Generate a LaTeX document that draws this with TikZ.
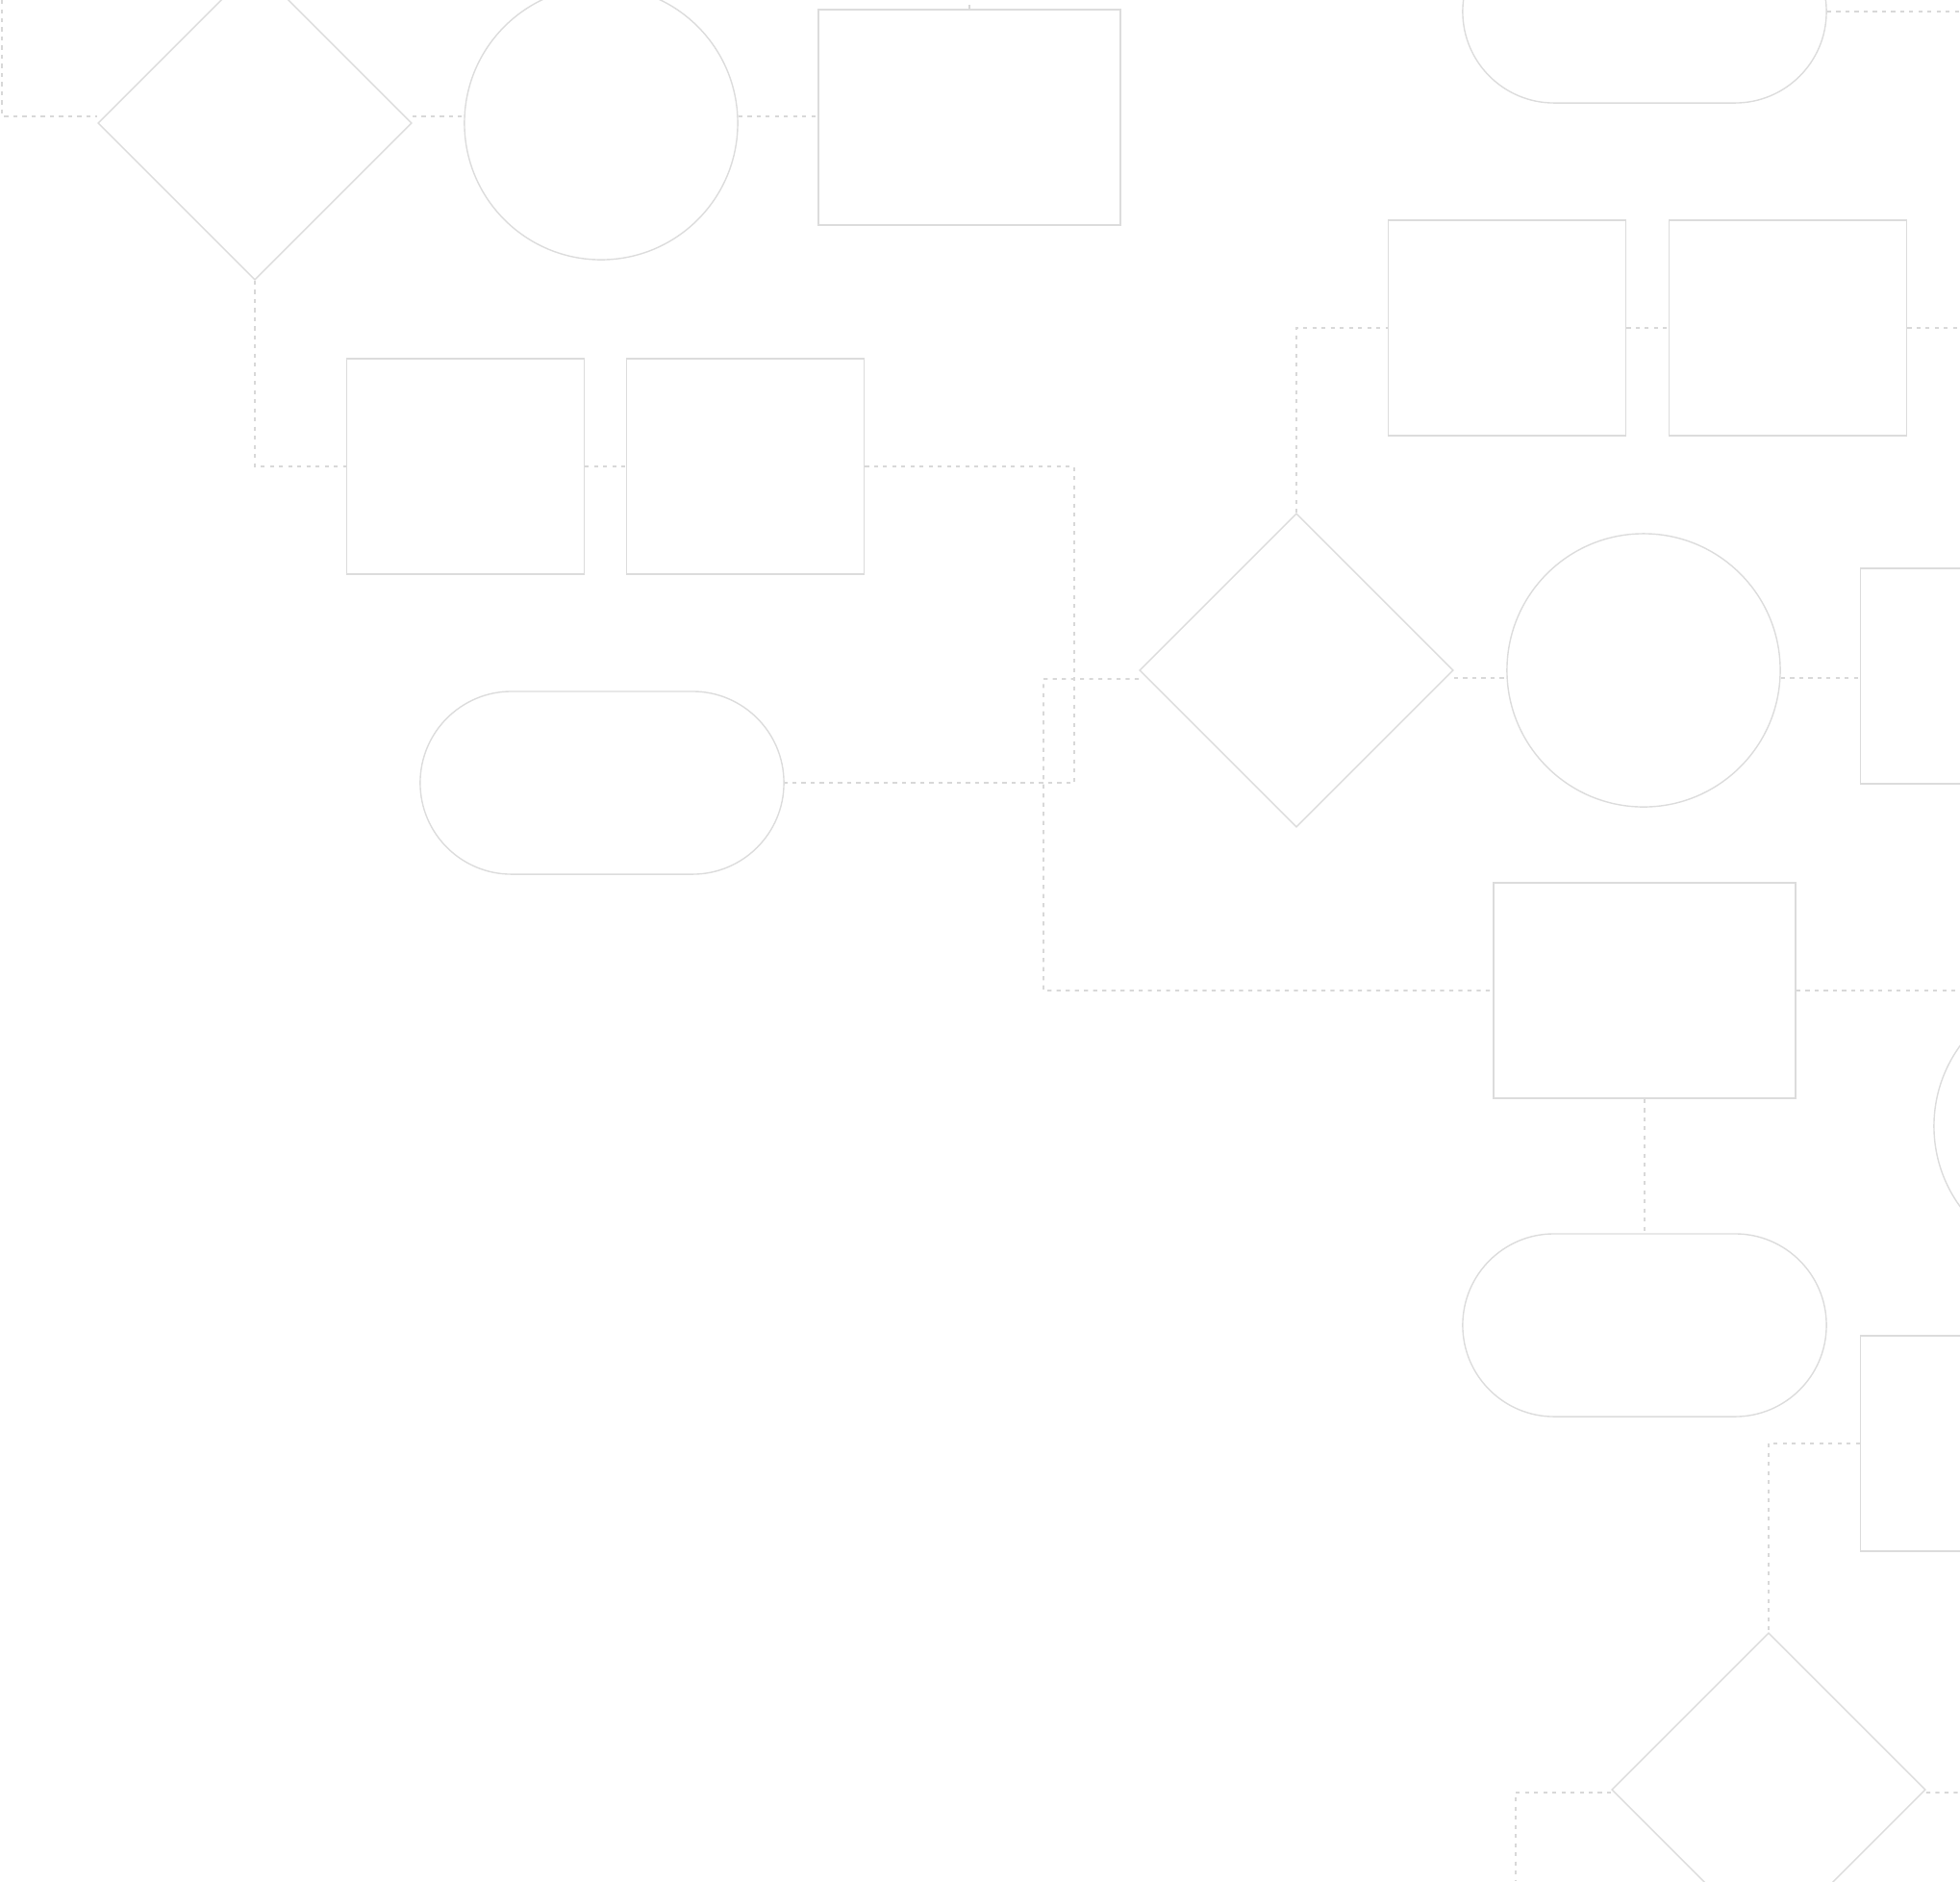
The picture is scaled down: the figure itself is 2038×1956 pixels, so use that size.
\documentclass[tikz,border=0pt]{standalone}
\usepackage{tikz}
\usetikzlibrary{shapes.geometric}
\usetikzlibrary{shapes.misc}
\usepackage{xcolor}
\definecolor{shapegray}{HTML}{DCDCDC}
\definecolor{linkgray}{HTML}{D8D8D8}

\begin{document}
\begin{tikzpicture}[x=0.01cm, y=-0.01cm]
        % ================= 样式定义 =================
        \tikzset{
            % 判断框:菱形
            decision/.style={diamond, draw=shapegray, line width=0.4pt, aspect=1, minimum width=3.26cm, minimum height=3.26cm, inner sep=0pt},
            % 圆形节点
            roundnode/.style={circle, draw=shapegray, line width=0.4pt, minimum size=2.84cm, inner sep=0pt},
            % 处理框:窄矩形与宽矩形
            smallbox/.style={rectangle, draw=shapegray, line width=0.4pt, minimum width=2.47cm, minimum height=2.24cm, inner sep=0pt},
            widebox/.style={smallbox, minimum width=3.14cm},
            % 起止框:跑道形
            terminal/.style={rounded rectangle, draw=shapegray, line width=0.4pt, minimum width=3.78cm, minimum height=1.90cm, inner sep=0pt},
            % 虚线连接
            link/.style={draw=linkgray, line width=0.45pt, dash pattern=on 1.2pt off 1.5pt}
        }

        % 画布范围 (形状在边缘被裁掉)
        \useasboundingbox (0,0) rectangle (2038,1956);
        \clip (0,0) rectangle (2038,1956);

        % ================= 节点 =================
        \foreach \n/\x/\y in {d1/265/128, d2/1348/697, d3/1839/1861} {
            \node[decision] (\n) at (\x,\y) {};
        }
        \foreach \n/\x/\y in {c1/625/128, c2/1709/697, c3/2153/1171} {
            \node[roundnode] (\n) at (\x,\y) {};
        }
        \foreach \n/\x/\y in {r2/1567/341, r3/1859/341, r4/484/485, r5/775/485, r6/2058/703, r8/2058/1501} {
            \node[smallbox] (\n) at (\x,\y) {};
        }
        \foreach \n/\x/\y in {r1/1008/122, r7/1710/1030} {
            \node[widebox] (\n) at (\x,\y) {};
        }
        \foreach \n/\x/\y in {s1/1710/12, s2/626/814, s3/1710/1378} {
            \node[terminal] (\n) at (\x,\y) {};
        }

        % 连接线的转折点与出画点
        \coordinate (top0) at (2,0);
        \coordinate (top1) at (1008,0);
        \coordinate (j1) at (1117,814);
        \coordinate (j2) at (1085,706);
        \coordinate (e1) at (2038,12);
        \coordinate (e2) at (2038,341);
        \coordinate (e3) at (2038,1030);
        \coordinate (e4) at (1576,1956);
        \coordinate (e5) at (2038,1864);

        % ================= 虚线连接 =================
        % 上排:线略高于菱形和圆的中线
        \draw[link] (top0) |- ([yshift=0.07cm]d1.west);
        \draw[link] ([yshift=0.07cm]d1.east) -- ([yshift=0.07cm]c1.west);
        \draw[link] ([yshift=0.07cm]c1.east) -- ([yshift=0.07cm]c1.east -| r1.west);
        \draw[link] (r1.north) -- (top1);
        \draw[link] (d1.south) |- (r4.west);
        \draw[link] (r4.east) -- (r5.west);
        \draw[link] (r5.east) -| (j1) -- (s2.east);
        % 中排:线略低于菱形和圆的中线
        \draw[link] ([yshift=-0.09cm]d2.west) -- (j2) |- (r7.west);
        \draw[link] (d2.north) |- (r2.west);
        \draw[link] (r2.east) -- (r3.west);
        \draw[link] (r3.east) -- (e2);
        \draw[link] ([yshift=-0.08cm]d2.east) -- ([yshift=-0.08cm]c2.west);
        \draw[link] ([yshift=-0.08cm]c2.east) -- ([yshift=-0.08cm]c2.east -| r6.west);
        \draw[link] (r7.east) -- (e3);
        \draw[link] (r7.south) -- (s3.north);
        \draw[link] (s1.east) -- (e1);
        % 下排
        \draw[link] (r8.west) -| (d3.north);
        \draw[link] ([yshift=-0.03cm]d3.west) -| (e4);
        \draw[link] ([yshift=-0.03cm]d3.east) -- (e5);

    \end{tikzpicture}
\end{document}
